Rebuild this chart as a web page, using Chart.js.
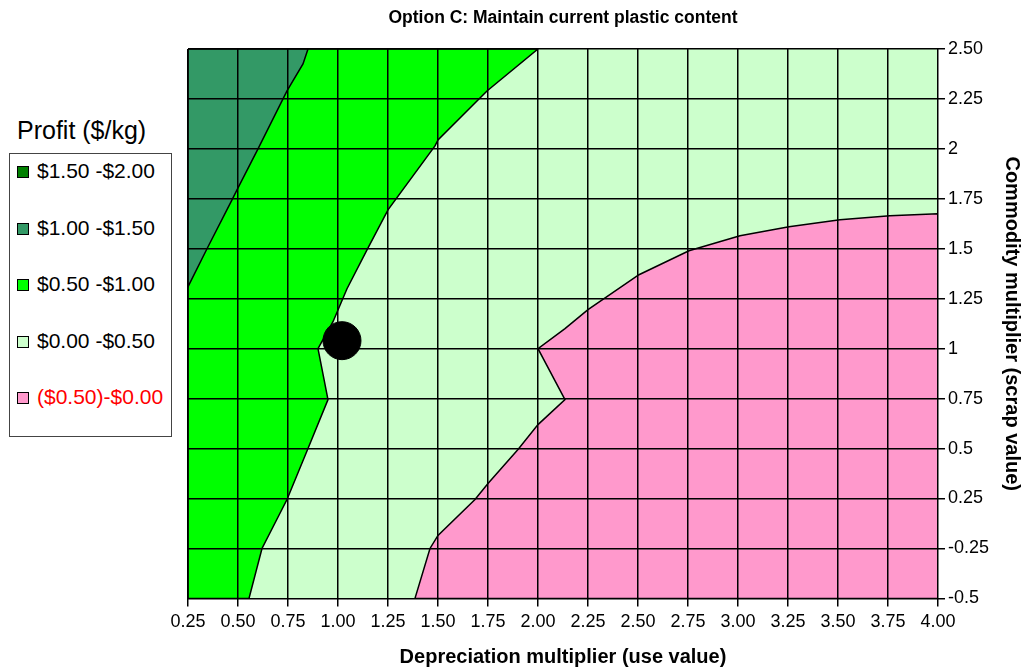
<!DOCTYPE html>
<html>
<head>
<meta charset="utf-8">
<script src="https://cdn.jsdelivr.net/npm/chart.js@4/dist/chart.umd.min.js"></script>
<style>
html, body { margin: 0; padding: 0; background: #fff; }
#wrap { position: relative; width: 1024px; height: 669px; font-family: "Liberation Sans", Arial, sans-serif; }
#plot { position: absolute; left: 108px; top: 0; width: 916px; height: 669px; }
#legendTitle { position: absolute; left: 17px; top: 116px; font-size: 25px; color: #000; }
#legend { position: absolute; left: 9px; top: 153px; width: 163px; height: 284px; border: 1px solid #444; box-sizing: border-box; font-size: 21px; }
.item { position: absolute; left: 7px; height: 24px; line-height: 24px; white-space: nowrap; }
.sw { display: inline-block; width: 10px; height: 10px; border: 1px solid #000; margin-right: 8px; vertical-align: 0px; }
</style>
</head>
<body>
<div id="wrap">
  <div id="legendTitle">Profit ($/kg)</div>
  <div id="legend"></div>
  <div id="plot"><canvas id="contour"></canvas></div>
</div>
<script>
// axis labels
var depreciation = [0.25, 0.50, 0.75, 1.00, 1.25, 1.50, 1.75, 2.00, 2.25, 2.50, 2.75, 3.00, 3.25, 3.50, 3.75, 4.00];
var commodity = ['-0.5', '-0.25', '0.25', '0.5', '0.75', '1', '1.25', '1.5', '1.75', '2', '2.25', '2.50'];

// profit bands (legend)
var bandLabels = ['$1.50 -$2.00', '$1.00 -$1.50', '$0.50 -$1.00', '$0.00 -$0.50', '($0.50)-$0.00'];
var bandColors = ['#008000', '#339966', '#00FF00', '#CCFFCC', '#FF99CC'];

// contour boundaries (x = depreciation, y = row position on the commodity axis)
var tealEdgeX = [0.85, 0.825, 0.745, 0.60, 0.495, 0.47, 0.345, 0.25];
var tealEdgeY = [11, 10.7, 10.16, 9, 8.18, 7.98, 7, 6.24];

var greenEdgeX = [2.0, 1.745, 1.5, 1.485, 1.25, 1.145, 1.045, 0.975, 0.9, 0.95, 0.85, 0.745, 0.62, 0.555];
var greenEdgeY = [11, 10.16, 9.18, 9.06, 7.78, 6.98, 6.2, 5.54, 5, 3.98, 3, 1.98, 1, 0];

var pinkEdgeX = [4.0, 3.76, 3.51, 3.255, 3.01, 2.755, 2.505, 2.25, 2.135, 2.0, 2.135, 2.0, 1.9, 1.75, 1.685, 1.5, 1.46, 1.385];
var pinkEdgeY = [7.7, 7.66, 7.58, 7.44, 7.26, 6.96, 6.48, 5.78, 5.4, 5.0, 3.98, 3.48, 2.98, 2.3, 1.98, 1.26, 1.0, 0];

// current position marker
var currentX = [1.02];
var currentY = [5.16];

var xMin = depreciation[0];
var xMax = depreciation[depreciation.length - 1];
var yMin = 0;
var yMax = commodity.length - 1;

var toPoints = function (xs, ys) {
    return xs.map(function (x, i) { return {x: x, y: ys[i]}; });
};

// close a boundary into a polygon using the plot corners
var polygon = function (pts, corners) {
    var all = pts.concat(corners);
    all.push(all[0]);
    return all;
};

var buildLegend = function () {
    var box = document.getElementById('legend');
    bandLabels.forEach(function (lab, i) {
        var d = document.createElement('div');
        d.className = 'item';
        d.style.top = (5 + i * 56.5) + 'px';
        if (i === bandLabels.length - 1) d.style.color = '#FF0000';
        var s = document.createElement('span');
        s.className = 'sw';
        s.style.background = bandColors[i];
        d.appendChild(s);
        d.appendChild(document.createTextNode(lab));
        box.appendChild(d);
    });
};

var region = function (data, color, line) {
    return {
        data: data,
        showLine: true,
        fill: 'shape',
        backgroundColor: color,
        borderColor: '#000',
        borderWidth: line,
        pointRadius: 0,
        pointHoverRadius: 0,
        tension: 0
    };
};

var axisFont = {family: '"Liberation Sans", Arial, sans-serif', size: 18};
var titleFont = {family: '"Liberation Sans", Arial, sans-serif', size: 20, weight: 'bold'};

var drawChart = function () {
    var light = polygon([], [{x: xMin, y: yMin}, {x: xMax, y: yMin}, {x: xMax, y: yMax}, {x: xMin, y: yMax}]);
    var green = polygon(toPoints(greenEdgeX, greenEdgeY), [{x: xMin, y: yMin}, {x: xMin, y: yMax}]);
    var teal = polygon(toPoints(tealEdgeX, tealEdgeY), [{x: xMin, y: yMax}]);
    var pink = polygon(toPoints(pinkEdgeX, pinkEdgeY), [{x: xMax, y: yMin}]);

    new Chart('contour', {
        type: 'scatter',
        data: {
            datasets: [
                {
                    data: toPoints(currentX, currentY),
                    backgroundColor: '#000',
                    borderColor: '#000',
                    pointRadius: 19,
                    pointHoverRadius: 19
                },
                region(pink, bandColors[4], 1.5),
                region(teal, bandColors[1], 1.5),
                region(green, bandColors[2], 1.5),
                region(light, bandColors[3], 0)
            ]
        },
        options: {
            responsive: true,
            maintainAspectRatio: false,
            animation: false,
            events: [],
            layout: {padding: {left: 80, right: 0, top: 0, bottom: 0}},
            plugins: {
                legend: {display: false},
                tooltip: {enabled: false},
                title: {
                    display: true,
                    fullSize: false,
                    text: 'Option C: Maintain current plastic content',
                    color: '#000',
                    font: {family: '"Liberation Sans", Arial, sans-serif', size: 17.5, weight: 'bold'},
                    padding: {top: 8, bottom: 20}
                }
            },
            scales: {
                x: {
                    type: 'linear',
                    position: 'bottom',
                    min: xMin,
                    max: xMax,
                    grid: {color: '#000', lineWidth: 1.5, tickLength: 8, z: 1},
                    border: {display: false},
                    ticks: {
                        stepSize: 0.25,
                        autoSkip: false,
                        maxRotation: 0,
                        color: '#000',
                        font: axisFont,
                        padding: 5,
                        callback: function (v) { return v.toFixed(2); }
                    },
                    title: {
                        display: true,
                        text: 'Depreciation multiplier (use value)',
                        color: '#000',
                        font: titleFont,
                        padding: {top: 7, bottom: 0}
                    }
                },
                y: {
                    type: 'linear',
                    position: 'right',
                    min: yMin,
                    max: yMax,
                    grid: {color: '#000', lineWidth: 1.5, tickLength: 7, z: 1},
                    border: {display: false},
                    ticks: {
                        stepSize: 1,
                        autoSkip: false,
                        color: '#000',
                        font: axisFont,
                        padding: 3,
                        callback: function (v) { return commodity[v]; }
                    },
                    title: {
                        display: true,
                        text: 'Commodity multiplier (scrap value)',
                        color: '#000',
                        font: titleFont,
                        padding: {top: 0, bottom: 8}
                    }
                }
            }
        }
    });
};

buildLegend();
drawChart();
</script>
</body>
</html>
